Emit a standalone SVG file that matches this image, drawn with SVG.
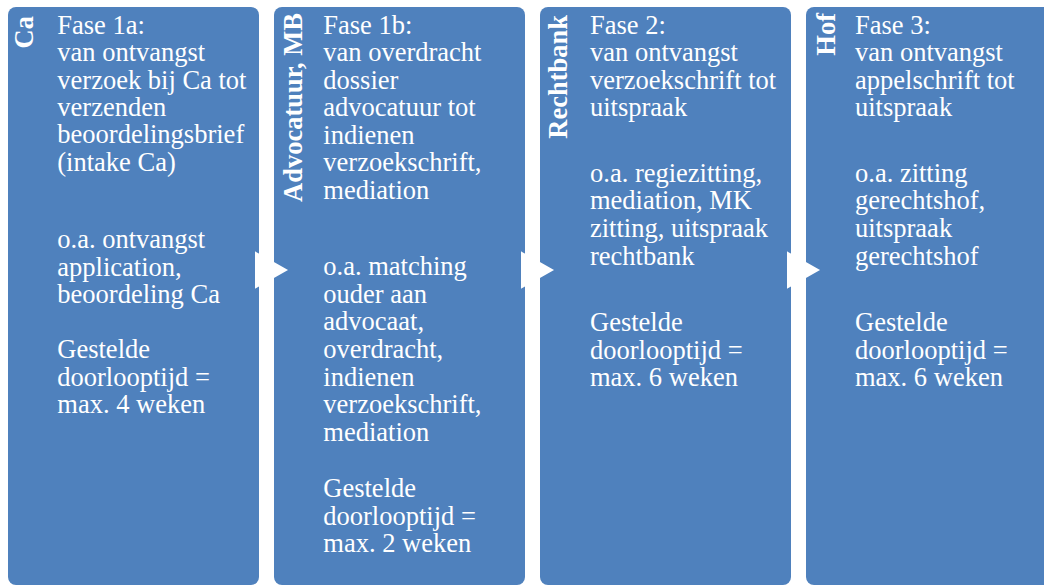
<svg xmlns="http://www.w3.org/2000/svg" width="1044" height="586" viewBox="0 0 1044 586">
<style>
.box{fill:#4F81BD;}
.t{font-family:"Liberation Serif","Times New Roman",serif;font-size:26.5px;fill:#ffffff;}
.lbl{font-family:"Liberation Serif","Times New Roman",serif;font-size:26.5px;font-weight:bold;fill:#ffffff;text-anchor:end;}
.arr{fill:#ffffff;stroke:#ffffff;stroke-width:2;stroke-linejoin:miter;}
</style>
<rect width="1044" height="586" fill="#ffffff"/>
<g id="node-ca">
<rect class="box" x="8" y="7" width="251" height="578" rx="8"/>
<text class="lbl" transform="translate(33,16) rotate(-90)">Ca</text>
<text class="t">
<tspan x="57.3" y="34">Fase 1a:</tspan>
<tspan x="57.3" y="61.3">van ontvangst</tspan>
<tspan x="57.3" y="88.6">verzoek bij Ca tot</tspan>
<tspan x="57.3" y="115.9">verzenden</tspan>
<tspan x="57.3" y="143.2">beoordelingsbrief</tspan>
<tspan x="57.3" y="170.5">(intake Ca)</tspan>
<tspan x="57.3" y="248.3">o.a. ontvangst</tspan>
<tspan x="57.3" y="275.6">application,</tspan>
<tspan x="57.3" y="302.9">beoordeling Ca</tspan>
<tspan x="57.3" y="358">Gestelde</tspan>
<tspan x="57.3" y="385.5">doorlooptijd =</tspan>
<tspan x="57.3" y="413.3">max. 4 weken</tspan>
</text>
</g>
<g id="node-advocatuur">
<rect class="box" x="274" y="7" width="251" height="578" rx="8"/>
<text class="lbl" transform="translate(302,13) rotate(-90)">Advocatuur, MB</text>
<text class="t">
<tspan x="323.3" y="33.5">Fase 1b:</tspan>
<tspan x="323.3" y="61">van overdracht</tspan>
<tspan x="323.3" y="88.5">dossier</tspan>
<tspan x="323.3" y="116">advocatuur tot</tspan>
<tspan x="323.3" y="143.5">indienen</tspan>
<tspan x="323.3" y="171.3">verzoekschrift,</tspan>
<tspan x="323.3" y="199">mediation</tspan>
<tspan x="323.3" y="275">o.a. matching</tspan>
<tspan x="323.3" y="302.7">ouder aan</tspan>
<tspan x="323.3" y="330.3">advocaat,</tspan>
<tspan x="323.3" y="358">overdracht,</tspan>
<tspan x="323.3" y="385.7">indienen</tspan>
<tspan x="323.3" y="413.3">verzoekschrift,</tspan>
<tspan x="323.3" y="441">mediation</tspan>
<tspan x="323.3" y="496.7">Gestelde</tspan>
<tspan x="323.3" y="524.5">doorlooptijd =</tspan>
<tspan x="323.3" y="552.3">max. 2 weken</tspan>
</text>
</g>
<g id="node-rechtbank">
<rect class="box" x="540" y="7" width="251" height="578" rx="8"/>
<text class="lbl" transform="translate(567,15) rotate(-90)">Rechtbank</text>
<text class="t">
<tspan x="590" y="33.5">Fase 2:</tspan>
<tspan x="590" y="61">van ontvangst</tspan>
<tspan x="590" y="88.5">verzoekschrift tot</tspan>
<tspan x="590" y="116">uitspraak</tspan>
<tspan x="590" y="181.7">o.a. regiezitting,</tspan>
<tspan x="590" y="209.3">mediation, MK</tspan>
<tspan x="590" y="237">zitting, uitspraak</tspan>
<tspan x="590" y="264.7">rechtbank</tspan>
<tspan x="590" y="331">Gestelde</tspan>
<tspan x="590" y="358.5">doorlooptijd =</tspan>
<tspan x="590" y="386">max. 6 weken</tspan>
</text>
</g>
<g id="node-hof">
<rect class="box" x="806" y="7" width="251" height="578" rx="8"/>
<text class="lbl" transform="translate(835,13) rotate(-90)">Hof</text>
<text class="t">
<tspan x="855" y="33.5">Fase 3:</tspan>
<tspan x="855" y="61">van ontvangst</tspan>
<tspan x="855" y="88.5">appelschrift tot</tspan>
<tspan x="855" y="116">uitspraak</tspan>
<tspan x="855" y="181.7">o.a. zitting</tspan>
<tspan x="855" y="209.3">gerechtshof,</tspan>
<tspan x="855" y="237">uitspraak</tspan>
<tspan x="855" y="264.7">gerechtshof</tspan>
<tspan x="855" y="331">Gestelde</tspan>
<tspan x="855" y="358.5">doorlooptijd =</tspan>
<tspan x="855" y="386">max. 6 weken</tspan>
</text>
</g>
<g id="connectors">
<polygon class="arr" points="256,253 286,270 256,287"/>
<polygon class="arr" points="522,253 552,270 522,287"/>
<polygon class="arr" points="788,253 818,270 788,287"/>
</g>
</svg>
